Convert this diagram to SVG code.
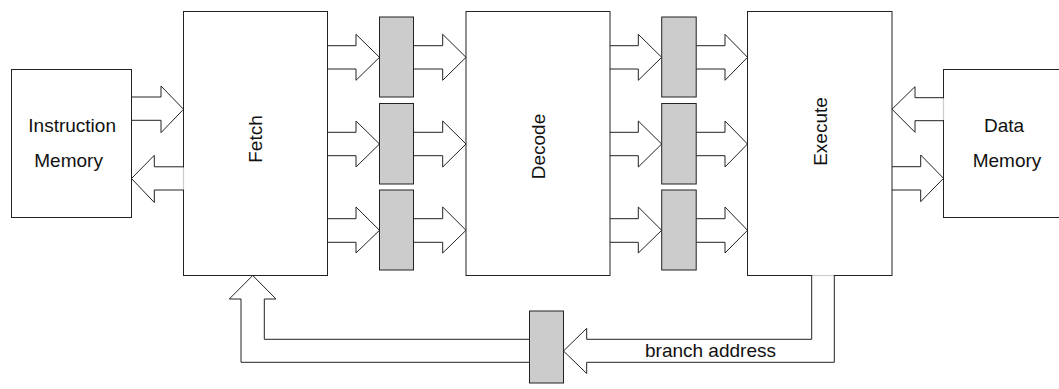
<svg xmlns="http://www.w3.org/2000/svg" width="1059" height="389" viewBox="0 0 1059 389">
<style>
.box{fill:#fff;stroke:#222;stroke-width:1}
.reg{fill:#ccc;stroke:#222;stroke-width:1}
.arr{fill:#fff;stroke:#222;stroke-width:1;stroke-linejoin:miter}
.lt{stroke:#ccc;stroke-width:1.2;fill:none}
text{font-family:"Liberation Sans",Arial,sans-serif;font-size:19px;fill:#111}
</style>
<rect width="1059" height="389" fill="#fff"/>
<g id="connectors">
<polyline class="arr" points="131.5,97 161,97 161,86 183.5,109.3 161,132.7 161,120.3 131.5,120.3"/>
<polyline class="arr" points="183.5,166.8 154.3,166.8 154.3,155.3 131.5,178.5 154.3,202.5 154.3,190 183.5,190"/>
<polyline class="arr" points="327.5,45.7 356,45.7 356,34.3 379.5,57.3 356,80.3 356,69 327.5,69"/>
<polyline class="arr" points="327.5,132.3 356,132.3 356,121 379.5,144 356,167 356,155.7 327.5,155.7"/>
<polyline class="arr" points="327.5,218.7 356,218.7 356,207 379.5,230.3 356,253 356,242.3 327.5,242.3"/>
<polyline class="arr" points="413.5,45.7 442.7,45.7 442.7,34.3 466,57.3 442.7,80.3 442.7,69 413.5,69"/>
<polyline class="arr" points="413.5,132.3 442.7,132.3 442.7,121 466,144 442.7,167 442.7,155.7 413.5,155.7"/>
<polyline class="arr" points="413.5,218.7 442.7,218.7 442.7,207 466,230.3 442.7,253 442.7,242.3 413.5,242.3"/>
<polyline class="arr" points="610,45.7 638.3,45.7 638.3,34.3 661.7,57.3 638.3,80.3 638.3,69 610,69"/>
<polyline class="arr" points="610,132.3 638.3,132.3 638.3,121 661.7,144 638.3,167 638.3,155.7 610,155.7"/>
<polyline class="arr" points="610,218.7 638.3,218.7 638.3,207 661.7,230.3 638.3,253 638.3,242.3 610,242.3"/>
<polyline class="arr" points="696.2,45.7 725,45.7 725,34.3 747.5,57.3 725,80.3 725,69 696.2,69"/>
<polyline class="arr" points="696.2,132.3 725,132.3 725,121 747.5,144 725,167 725,155.7 696.2,155.7"/>
<polyline class="arr" points="696.2,218.7 725,218.7 725,207 747.5,230.3 725,253 725,242.3 696.2,242.3"/>
<polyline class="arr" points="943.5,97.7 915,97.7 915,86.7 892,109.2 915,132.3 915,120.7 943.5,120.7"/>
<polyline class="arr" points="892,166.7 920.7,166.7 920.7,155 943.5,178.3 920.7,201.7 920.7,190 892,190"/>
<polyline class="arr" points="811.7,275.5 811.7,339.3 586.7,339.3 586.7,328.3 563.5,351 586.7,373.5 586.7,362.3 834.3,362.3 834.3,275.5"/>
<polyline class="arr" points="529.5,339.3 264.3,339.3 264.3,299 276,299 252.7,275.5 229.3,299 241,299 241,362.3 529.5,362.3"/>
<text x="645" y="356.5">branch address</text>
</g>
<g id="instruction-memory">
<rect class="box" x="11.5" y="69.5" width="120" height="148"/>
<text x="28.3" y="132">Instruction</text>
<text x="34.3" y="167">Memory</text>
</g>
<g id="data-memory">
<rect class="box" x="943.5" y="69.5" width="121" height="148"/>
<text x="1004" y="132" text-anchor="middle">Data</text>
<text x="1007" y="167" text-anchor="middle">Memory</text>
</g>
<g id="fetch">
<rect class="box" x="183.5" y="11.5" width="144" height="264"/>
<text transform="translate(262,139) rotate(-90)" text-anchor="middle">Fetch</text>
</g>
<g id="decode">
<rect class="box" x="466" y="11.5" width="144" height="264"/>
<text transform="translate(545,146.5) rotate(-90)" text-anchor="middle">Decode</text>
</g>
<g id="execute">
<rect class="box" x="747.5" y="11.5" width="144.5" height="264"/>
<text transform="translate(827,131.5) rotate(-90)" text-anchor="middle">Execute</text>
</g>
<g id="regs-1">
<rect class="reg" x="379.5" y="17" width="34" height="80"/>
<rect class="reg" x="379.5" y="103.5" width="34" height="80.5"/>
<rect class="reg" x="379.5" y="190" width="34" height="80"/>
</g>
<g id="regs-2">
<rect class="reg" x="661.7" y="17" width="34.5" height="80"/>
<rect class="reg" x="661.7" y="103.5" width="34.5" height="80.5"/>
<rect class="reg" x="661.7" y="190" width="34.5" height="80"/>
</g>
<g id="branch-reg">
<rect class="reg" x="529.5" y="311" width="34" height="72"/>
</g>
<g id="connector-joins">
<line class="lt" x1="183.5" y1="167.5" x2="183.5" y2="189.5"/>
<line class="lt" x1="943.5" y1="98.3" x2="943.5" y2="120"/>
<line class="lt" x1="812.3" y1="275.5" x2="833.7" y2="275.5"/>
</g>
</svg>
